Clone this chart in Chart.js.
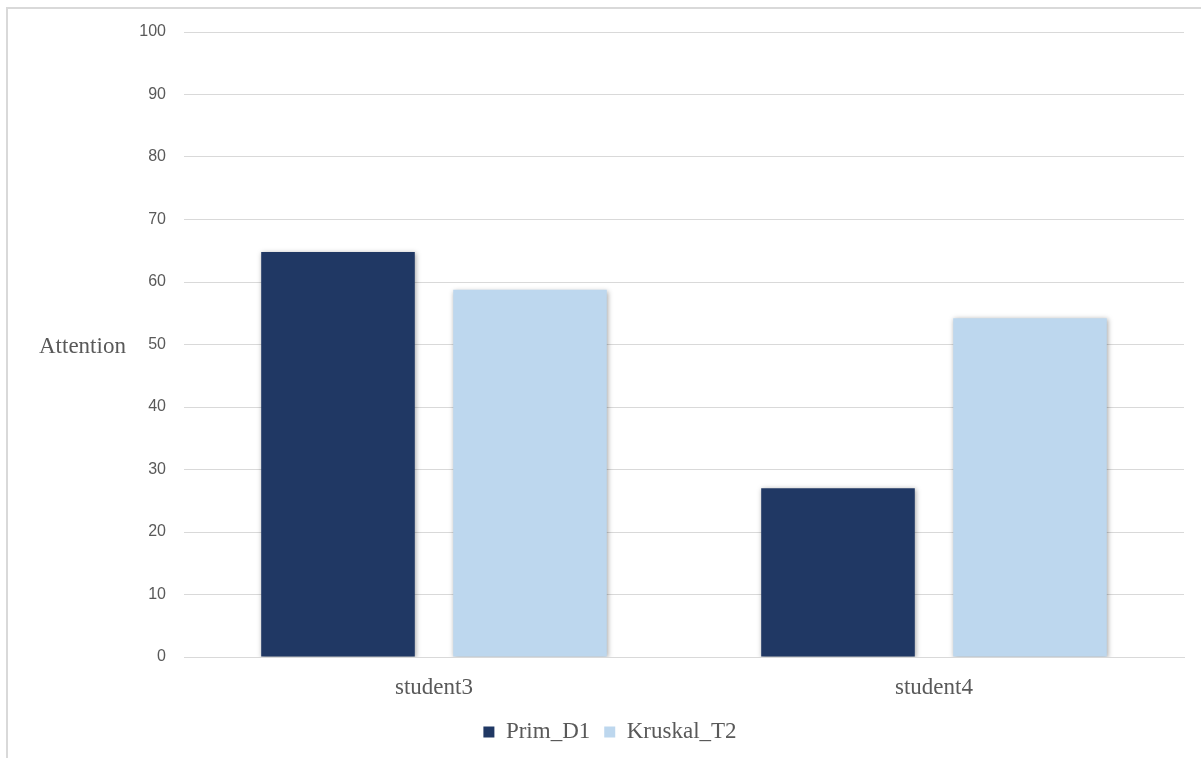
<!DOCTYPE html>
<html>
<head>
<meta charset="utf-8">
<script src="https://cdn.jsdelivr.net/npm/chart.js@4/dist/chart.umd.min.js"></script>
<style>
  html, body { margin: 0; padding: 0; background: #fff; }
  #wrap { position: relative; width: 1201px; height: 758px; }
  #frame {
    position: absolute; left: 6px; top: 7px; right: 0; bottom: 0;
    border-top: 2px solid #d9d9d9; border-left: 2px solid #d9d9d9;
    pointer-events: none;
  }
  canvas { position: absolute; left: 0; top: 0; }
</style>
</head>
<body>
<div id="wrap">
  <canvas id="myChart" width="1201" height="758"></canvas>
  <div id="frame"></div>
</div>
<script>
const students = ['student3', 'student4']
const primD1 = [64.8, 27]
const kruskalT2 = [58.75, 54.2]
const yTicks = [0, 10, 20, 30, 40, 50, 60, 70, 80, 90, 100]

const grey = '#595959'
const serif = '"Liberation Serif", "Times New Roman", serif'
const sans = '"Liberation Sans", Arial, sans-serif'

// soft outer shadow behind the bars
const barShadow = {
  id: 'barShadow',
  beforeDatasetsDraw(chart) {
    const c = chart.ctx
    c.save()
    c.shadowColor = 'rgba(0,0,0,0.35)'
    c.shadowBlur = 5
    c.shadowOffsetX = 1
    c.shadowOffsetY = 1
  },
  afterDatasetsDraw(chart) {
    chart.ctx.restore()
  }
}

// horizontal axis title left of the value axis
const sideTitle = {
  id: 'sideTitle',
  afterDraw(chart) {
    const c = chart.ctx
    const y = chart.scales.y.getPixelForValue(50)
    c.save()
    c.font = '23px ' + serif
    c.fillStyle = grey
    c.textAlign = 'left'
    c.textBaseline = 'middle'
    c.fillText('Attention', 39, y + 2)
    c.restore()
  }
}

const ctx = document.getElementById('myChart').getContext('2d')

const data = {
  labels: students,
  datasets: [
    {
      label: 'Prim_D1',
      backgroundColor: '#203864',
      data: primD1
    },
    {
      label: 'Kruskal_T2',
      backgroundColor: '#bdd7ee',
      data: kruskalT2
    }
  ]
}

const config = {
  type: 'bar',
  data: data,
  plugins: [barShadow, sideTitle],
  options: {
    responsive: false,
    animation: false,
    categoryPercentage: 0.768,
    barPercentage: 0.8,
    layout: { padding: { top: 32, right: 17, left: 36, bottom: 4.5 } },
    plugins: {
      tooltip: { enabled: false },
      legend: {
        position: 'bottom',
        labels: {
          boxWidth: 11,
          boxHeight: 11,
          padding: 14,
          color: grey,
          font: { family: serif, size: 23 }
        }
      }
    },
    scales: {
      x: {
        grid: { display: false, drawTicks: false },
        border: { display: true, color: '#d9d9d9', width: 1 },
        ticks: {
          color: grey,
          padding: 17,
          font: { family: serif, size: 23 }
        },
        afterFit(scale) { scale.height = 49.5 }
      },
      y: {
        min: 0,
        max: 100,
        afterBuildTicks(scale) {
          scale.ticks = yTicks.map(v => ({ value: v }))
        },
        grid: { color: '#d9d9d9', drawTicks: false },
        border: { display: false },
        ticks: {
          color: grey,
          padding: 18,
          font: { family: sans, size: 16 }
        },
        afterFit(scale) { scale.width = 148 }
      }
    }
  }
}

const myChart = new Chart(ctx, config)
</script>
</body>
</html>
